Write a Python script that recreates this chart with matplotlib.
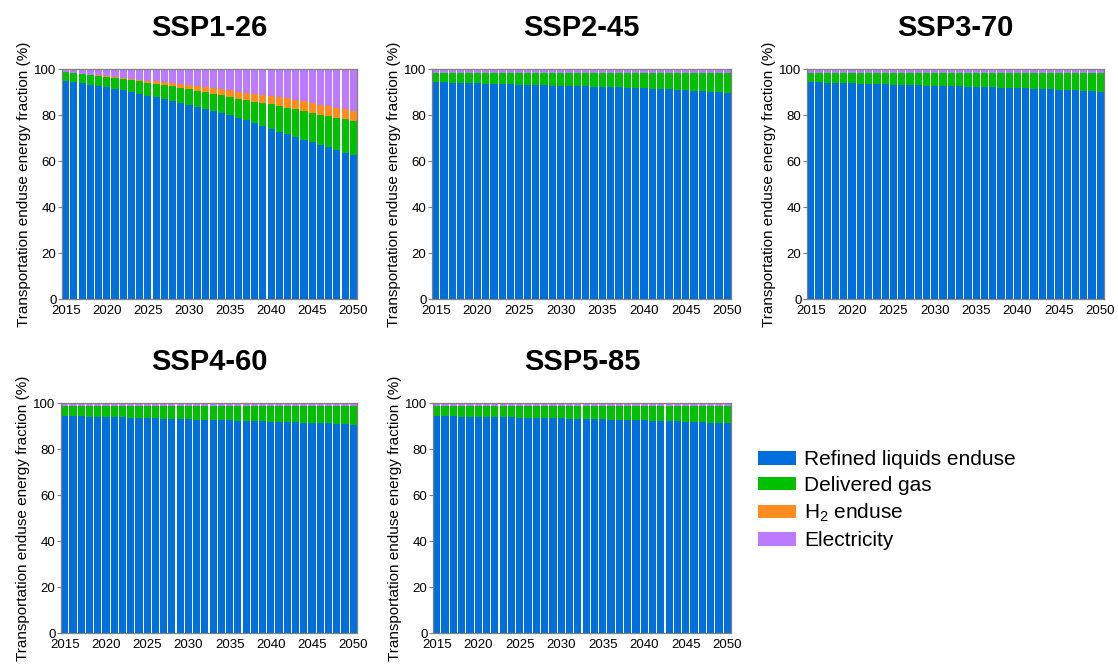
import matplotlib
matplotlib.use("Agg")
import matplotlib.pyplot as plt
from matplotlib.patches import Patch
import numpy as np

plt.rcParams['font.family'] = ['Liberation Sans', 'DejaVu Sans']
plt.rcParams['mathtext.fontset'] = 'custom'
plt.rcParams['mathtext.rm'] = 'Liberation Sans'
plt.rcParams['mathtext.it'] = 'Liberation Sans:italic'

years = list(range(2015, 2051))
scenarios = ["SSP1-26", "SSP2-45", "SSP3-70", "SSP4-60", "SSP5-85"]
series_names = ["Refined liquids enduse", "Delivered gas", "H$_2$ enduse", "Electricity"]
colors = ["#006EDC", "#00C000", "#FF8C1E", "#BA7BFF"]

ssp1_liquids = [94.9, 94.2, 93.8, 93.2, 92.8, 92.2, 91.4, 90.7, 90.0, 89.3, 88.4, 87.7,
                87.0, 86.1, 85.4, 84.5, 83.6, 82.8, 81.9, 81.0, 80.0, 78.8, 77.7, 76.5,
                75.2, 74.1, 72.8, 71.6, 70.4, 69.3, 68.3, 67.1, 65.9, 64.8, 63.6, 62.6]
ssp1_gas = [3.7, 3.9, 3.9, 4.2, 4.2, 4.3, 4.5, 4.8, 5.1, 5.3, 5.7, 5.8,
            6.0, 6.4, 6.5, 6.8, 7.0, 7.2, 7.4, 7.6, 7.8, 8.3, 8.7, 9.3,
            10.0, 10.5, 11.1, 11.6, 12.1, 12.4, 12.7, 13.0, 13.5, 13.9, 14.5, 14.8]
ssp1_h2 = [0.05, 0.1, 0.15, 0.2, 0.3, 0.4, 0.5, 0.6, 0.7, 0.8, 0.9, 1.1,
           1.3, 1.5, 1.7, 1.9, 2.1, 2.3, 2.5, 2.7, 2.9, 3.1, 3.3, 3.5,
           3.6, 3.8, 3.9, 4.0, 4.1, 4.2, 4.2, 4.3, 4.3, 4.4, 4.4, 4.5]
ssp1_elec = [1.35, 1.8, 2.15, 2.4, 2.7, 3.1, 3.6, 3.9, 4.2, 4.6, 5.0, 5.4,
             5.7, 6.0, 6.4, 6.8, 7.3, 7.7, 8.2, 8.7, 9.3, 9.8, 10.3, 10.7,
             11.2, 11.6, 12.2, 12.8, 13.4, 14.1, 14.8, 15.6, 16.3, 16.9, 17.5, 18.1]

ssp2_liquids = [94.5, 94.2, 94.0, 93.9, 93.8, 93.7, 93.6, 93.5, 93.4, 93.3, 93.2, 93.1,
                93.0, 92.9, 92.8, 92.7, 92.6, 92.5, 92.4, 92.3, 92.2, 92.1, 92.0, 91.8,
                91.7, 91.6, 91.4, 91.3, 91.1, 91.0, 90.8, 90.6, 90.4, 90.2, 89.9, 89.6]
ssp2_gas = [3.8, 4.1, 4.3, 4.4, 4.5, 4.6, 4.7, 4.8, 4.9, 5.0, 5.1, 5.2,
            5.3, 5.4, 5.5, 5.6, 5.7, 5.8, 5.9, 6.0, 6.1, 6.2, 6.3, 6.5,
            6.6, 6.7, 6.9, 7.0, 7.2, 7.3, 7.5, 7.7, 7.9, 8.1, 8.4, 8.7]
ssp2_h2 = [0.0, 0.0, 0.0, 0.0, 0.0, 0.0, 0.0, 0.0, 0.0, 0.0, 0.0, 0.0,
           0.0, 0.0, 0.0, 0.0, 0.0, 0.0, 0.0, 0.0, 0.0, 0.0, 0.0, 0.0,
           0.0, 0.0, 0.0, 0.0, 0.0, 0.0, 0.0, 0.0, 0.0, 0.0, 0.0, 0.0]
ssp2_elec = [1.7, 1.7, 1.7, 1.7, 1.7, 1.7, 1.7, 1.7, 1.7, 1.7, 1.7, 1.7,
             1.7, 1.7, 1.7, 1.7, 1.7, 1.7, 1.7, 1.7, 1.7, 1.7, 1.7, 1.7,
             1.7, 1.7, 1.7, 1.7, 1.7, 1.7, 1.7, 1.7, 1.7, 1.7, 1.7, 1.7]

ssp3_liquids = [94.5, 94.2, 94.0, 93.9, 93.8, 93.7, 93.6, 93.5, 93.4, 93.3, 93.2, 93.1,
                93.0, 92.9, 92.8, 92.7, 92.6, 92.5, 92.4, 92.3, 92.2, 92.1, 92.0, 91.9,
                91.8, 91.7, 91.6, 91.5, 91.3, 91.2, 91.0, 90.9, 90.7, 90.6, 90.4, 90.2]
ssp3_gas = [3.8, 4.1, 4.3, 4.4, 4.5, 4.6, 4.7, 4.8, 4.9, 5.0, 5.1, 5.2,
            5.3, 5.4, 5.5, 5.6, 5.7, 5.8, 5.9, 6.0, 6.1, 6.2, 6.3, 6.4,
            6.5, 6.6, 6.7, 6.8, 7.0, 7.1, 7.3, 7.4, 7.6, 7.7, 7.9, 8.1]
ssp3_h2 = [0.0, 0.0, 0.0, 0.0, 0.0, 0.0, 0.0, 0.0, 0.0, 0.0, 0.0, 0.0,
           0.0, 0.0, 0.0, 0.0, 0.0, 0.0, 0.0, 0.0, 0.0, 0.0, 0.0, 0.0,
           0.0, 0.0, 0.0, 0.0, 0.0, 0.0, 0.0, 0.0, 0.0, 0.0, 0.0, 0.0]
ssp3_elec = [1.7, 1.7, 1.7, 1.7, 1.7, 1.7, 1.7, 1.7, 1.7, 1.7, 1.7, 1.7,
             1.7, 1.7, 1.7, 1.7, 1.7, 1.7, 1.7, 1.7, 1.7, 1.7, 1.7, 1.7,
             1.7, 1.7, 1.7, 1.7, 1.7, 1.7, 1.7, 1.7, 1.7, 1.7, 1.7, 1.7]

ssp4_liquids = [94.5, 94.3, 94.2, 94.1, 94.0, 93.9, 93.8, 93.7, 93.6, 93.5, 93.4, 93.3,
                93.2, 93.1, 93.0, 92.9, 92.8, 92.7, 92.6, 92.5, 92.4, 92.3, 92.2, 92.1,
                92.0, 91.9, 91.8, 91.7, 91.6, 91.5, 91.4, 91.2, 91.1, 90.9, 90.8, 90.6]
ssp4_gas = [4.0, 4.2, 4.3, 4.4, 4.5, 4.6, 4.7, 4.8, 4.9, 5.0, 5.1, 5.2,
            5.3, 5.4, 5.5, 5.6, 5.7, 5.8, 5.9, 6.0, 6.1, 6.2, 6.3, 6.4,
            6.5, 6.6, 6.7, 6.8, 6.9, 7.0, 7.1, 7.3, 7.4, 7.6, 7.7, 7.9]
ssp4_h2 = [0.0, 0.0, 0.0, 0.0, 0.0, 0.0, 0.0, 0.0, 0.0, 0.0, 0.0, 0.0,
           0.0, 0.0, 0.0, 0.0, 0.0, 0.0, 0.0, 0.0, 0.0, 0.0, 0.0, 0.0,
           0.0, 0.0, 0.0, 0.0, 0.0, 0.0, 0.0, 0.0, 0.0, 0.0, 0.0, 0.0]
ssp4_elec = [1.5, 1.5, 1.5, 1.5, 1.5, 1.5, 1.5, 1.5, 1.5, 1.5, 1.5, 1.5,
             1.5, 1.5, 1.5, 1.5, 1.5, 1.5, 1.5, 1.5, 1.5, 1.5, 1.5, 1.5,
             1.5, 1.5, 1.5, 1.5, 1.5, 1.5, 1.5, 1.5, 1.5, 1.5, 1.5, 1.5]

ssp5_liquids = [94.4, 94.3, 94.2, 94.1, 94.0, 94.0, 93.9, 93.8, 93.7, 93.7, 93.6, 93.5,
                93.5, 93.4, 93.3, 93.3, 93.2, 93.1, 93.0, 93.0, 92.9, 92.8, 92.7, 92.6,
                92.5, 92.4, 92.3, 92.2, 92.1, 92.0, 91.9, 91.8, 91.6, 91.5, 91.4, 91.2]
ssp5_gas = [4.1, 4.2, 4.3, 4.4, 4.5, 4.5, 4.6, 4.7, 4.8, 4.8, 4.9, 5.0,
            5.0, 5.1, 5.2, 5.2, 5.3, 5.4, 5.5, 5.5, 5.6, 5.7, 5.8, 5.9,
            6.0, 6.1, 6.2, 6.3, 6.4, 6.5, 6.6, 6.7, 6.9, 7.0, 7.1, 7.3]
ssp5_h2 = [0.0, 0.0, 0.0, 0.0, 0.0, 0.0, 0.0, 0.0, 0.0, 0.0, 0.0, 0.0,
           0.0, 0.0, 0.0, 0.0, 0.0, 0.0, 0.0, 0.0, 0.0, 0.0, 0.0, 0.0,
           0.0, 0.0, 0.0, 0.0, 0.0, 0.0, 0.0, 0.0, 0.0, 0.0, 0.0, 0.0]
ssp5_elec = [1.5, 1.5, 1.5, 1.5, 1.5, 1.5, 1.5, 1.5, 1.5, 1.5, 1.5, 1.5,
             1.5, 1.5, 1.5, 1.5, 1.5, 1.5, 1.5, 1.5, 1.5, 1.5, 1.5, 1.5,
             1.5, 1.5, 1.5, 1.5, 1.5, 1.5, 1.5, 1.5, 1.5, 1.5, 1.5, 1.5]

scenario_data = [
    [ssp1_liquids, ssp1_gas, ssp1_h2, ssp1_elec],
    [ssp2_liquids, ssp2_gas, ssp2_h2, ssp2_elec],
    [ssp3_liquids, ssp3_gas, ssp3_h2, ssp3_elec],
    [ssp4_liquids, ssp4_gas, ssp4_h2, ssp4_elec],
    [ssp5_liquids, ssp5_gas, ssp5_h2, ssp5_elec],
]

fig = plt.figure(figsize=(11.18, 6.66), dpi=100)

W, H = 1118, 666
# pixel boxes: (left, top, right, bottom)
boxes = [(62, 69, 357, 299), (432, 69, 731, 299), (807, 69, 1104, 299),
         (61, 403, 357, 633), (433, 403, 731, 633)]

spine_col = "#7f7f7f"
for box, name, data in zip(boxes, scenarios, scenario_data):
    l, t, r, b = box
    ax = fig.add_axes([l / W, (H - b) / H, (r - l) / W, (b - t) / H])
    bottom = np.zeros(len(years))
    for vals, col in zip(data, colors):
        v = np.array(vals)
        ax.bar(years, v, bottom=bottom, width=0.87, color=col, linewidth=0)
        bottom += v
    ax.set_xlim(2014.55, 2050.45)
    ax.set_ylim(0, 100)
    ax.set_yticks([0, 20, 40, 60, 80, 100])
    ax.set_xticks([2015, 2020, 2025, 2030, 2035, 2040, 2045, 2050])
    ax.tick_params(axis='y', labelsize=9.5, length=3, width=0.8, color=spine_col, pad=1)
    ax.tick_params(axis='x', labelsize=9.5, length=0, pad=4)
    for s in ax.spines.values():
        s.set_color(spine_col)
        s.set_linewidth(0.9)
    ax.set_ylabel("Transportation enduse energy fraction (%)", fontsize=11, labelpad=2)
    ax.set_title(name, fontsize=21, fontweight='bold', pad=24)

handles = [Patch(facecolor=c, edgecolor='none') for c in colors]
fig.legend(handles, series_names, loc='upper left', bbox_to_anchor=(750 / W, 1 - 442 / H),
           frameon=False, fontsize=15, handlelength=1.8, handleheight=0.6,
           labelspacing=0.33, handletextpad=0.4, borderaxespad=0)

fig.savefig("out.png", dpi=100)
